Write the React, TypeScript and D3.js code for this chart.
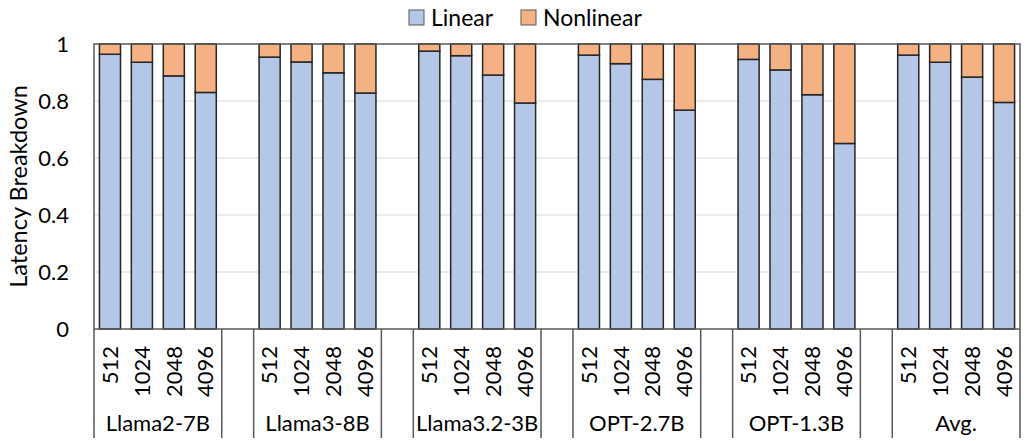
import { useEffect, useRef } from 'react'
import * as d3 from 'd3'

const MODELS = ['Llama2-7B', 'Llama3-8B', 'Llama3.2-3B', 'OPT-2.7B', 'OPT-1.3B', 'Avg.']
const SEQ_LENS = ['512', '1024', '2048', '4096']
// linear share of latency, per model, per sequence length
const LINEAR = [
  [0.964, 0.936, 0.888, 0.83],
  [0.954, 0.937, 0.899, 0.828],
  [0.975, 0.959, 0.891, 0.793],
  [0.961, 0.931, 0.876, 0.768],
  [0.946, 0.909, 0.822, 0.651],
  [0.961, 0.936, 0.884, 0.795],
]
const Y_TICKS = [0, 0.2, 0.4, 0.6, 0.8, 1]

const W = 1026
const H = 441
const MARGIN = { top: 44, right: 6, bottom: 112, left: 94 }
const LINEAR_COLOR = '#B4C7E7'
const NONLINEAR_COLOR = '#F4B183'
const EDGE = '#262626'
const FRAME = '#595959'
const GRID = '#D9D9D9'
const FONT = "Lato, 'Open Sans', sans-serif"
const FONT_SIZE = 22

interface Slot {
  key: string
  model: number
  len: number
  linear: number
}

export default function App() {
  const svgRef = useRef<SVGSVGElement>(null)

  useEffect(() => {
    document.body.style.margin = '0'
    const svg = svgRef.current
    if (!svg) return

    const sel = d3.select(svg)
    sel.selectAll('*').remove()

    const x0 = MARGIN.left
    const x1 = W - MARGIN.right
    const y0 = H - MARGIN.bottom
    const y1 = MARGIN.top

    // one slot per bar, plus one empty slot between models
    const slots: Slot[] = []
    const keys: string[] = []
    MODELS.forEach((_, m) => {
      SEQ_LENS.forEach((_, s) => {
        const key = `${m}-${s}`
        keys.push(key)
        slots.push({ key, model: m, len: s, linear: LINEAR[m][s] })
      })
      if (m < MODELS.length - 1) keys.push(`gap-${m}`)
    })

    const x = d3.scaleBand().domain(keys).range([x0, x1]).padding(0)
    const y = d3.scaleLinear().domain([0, 1]).range([y0, y1])
    const bw = x.bandwidth()
    const barW = bw * 0.66

    // gridlines
    sel.append('g')
      .selectAll('line')
      .data(Y_TICKS.filter((t) => t > 0 && t < 1))
      .join('line')
      .attr('x1', x0).attr('x2', x1)
      .attr('y1', (d) => y(d)).attr('y2', (d) => y(d))
      .attr('stroke', GRID).attr('stroke-width', 1.2)

    // y tick labels
    sel.append('g')
      .selectAll('text')
      .data(Y_TICKS)
      .join('text')
      .attr('x', 69)
      .attr('y', (d) => y(d))
      .attr('dy', '0.35em')
      .attr('text-anchor', 'end')
      .attr('font-family', FONT)
      .attr('font-size', FONT_SIZE)
      .attr('fill', '#000')
      .text((d) => d3.format('~g')(d))

    // y label
    sel.append('text')
      .attr('transform', `translate(27,${(y0 + y1) / 2}) rotate(-90)`)
      .attr('text-anchor', 'middle')
      .attr('font-family', FONT)
      .attr('font-size', 23.5)
      .attr('fill', '#000')
      .text('Latency Breakdown')

    // bars
    const bars = sel.append('g')
    bars.selectAll('rect.lin')
      .data(slots)
      .join('rect')
      .attr('class', 'lin')
      .attr('x', (d) => x(d.key)! + (bw - barW) / 2)
      .attr('width', barW)
      .attr('y', (d) => y(d.linear))
      .attr('height', (d) => y(0) - y(d.linear))
      .attr('fill', LINEAR_COLOR)
      .attr('stroke', EDGE)
      .attr('stroke-width', 1.5)

    bars.selectAll('rect.nonlin')
      .data(slots)
      .join('rect')
      .attr('class', 'nonlin')
      .attr('x', (d) => x(d.key)! + (bw - barW) / 2)
      .attr('width', barW)
      .attr('y', y(1))
      .attr('height', (d) => y(d.linear) - y(1))
      .attr('fill', NONLINEAR_COLOR)
      .attr('stroke', EDGE)
      .attr('stroke-width', 1.5)

    // plot frame
    sel.append('rect')
      .attr('x', x0).attr('y', y1)
      .attr('width', x1 - x0).attr('height', y0 - y1)
      .attr('fill', 'none')
      .attr('stroke', FRAME)
      .attr('stroke-width', 1.5)

    // separators below axis
    const sepX: number[] = [x0]
    MODELS.forEach((_, m) => {
      const last = x(`${m}-${SEQ_LENS.length - 1}`)! + bw
      sepX.push(last)
      if (m < MODELS.length - 1) sepX.push(x(`gap-${m}`)! + bw)
    })
    sel.append('g')
      .selectAll('line')
      .data(sepX)
      .join('line')
      .attr('x1', (d) => d).attr('x2', (d) => d)
      .attr('y1', y0).attr('y2', 438)
      .attr('stroke', FRAME)
      .attr('stroke-width', 1.5)

    // sequence length labels
    sel.append('g')
      .selectAll('text')
      .data(slots)
      .join('text')
      .attr('transform', (d) => `translate(${x(d.key)! + bw / 2},346) rotate(-90)`)
      .attr('dy', '0.35em')
      .attr('text-anchor', 'end')
      .attr('font-family', FONT)
      .attr('font-size', FONT_SIZE)
      .attr('fill', '#000')
      .text((d) => SEQ_LENS[d.len])

    // model labels
    sel.append('g')
      .selectAll('text')
      .data(MODELS)
      .join('text')
      .attr('x', (_, m) => (x(`${m}-0`)! + x(`${m}-${SEQ_LENS.length - 1}`)! + bw) / 2)
      .attr('y', 431)
      .attr('text-anchor', 'middle')
      .attr('font-family', FONT)
      .attr('font-size', FONT_SIZE)
      .attr('fill', '#000')
      .text((d) => d)

    // legend
    const legend = [
      { label: 'Linear', color: LINEAR_COLOR, x: 409 },
      { label: 'Nonlinear', color: NONLINEAR_COLOR, x: 521 },
    ]
    const lg = sel.append('g')
    lg.selectAll('rect')
      .data(legend)
      .join('rect')
      .attr('x', (d) => d.x).attr('y', 10)
      .attr('width', 15).attr('height', 15)
      .attr('fill', (d) => d.color)
      .attr('stroke', FRAME)
      .attr('stroke-width', 1)
    lg.selectAll('text')
      .data(legend)
      .join('text')
      .attr('x', (d) => d.x + 22)
      .attr('y', 25.5)
      .attr('font-family', FONT)
      .attr('font-size', 23)
      .attr('fill', '#000')
      .text((d) => d.label)
  }, [])

  return <svg ref={svgRef} width={W} height={H} style={{ display: 'block', background: '#fff' }} />
}
